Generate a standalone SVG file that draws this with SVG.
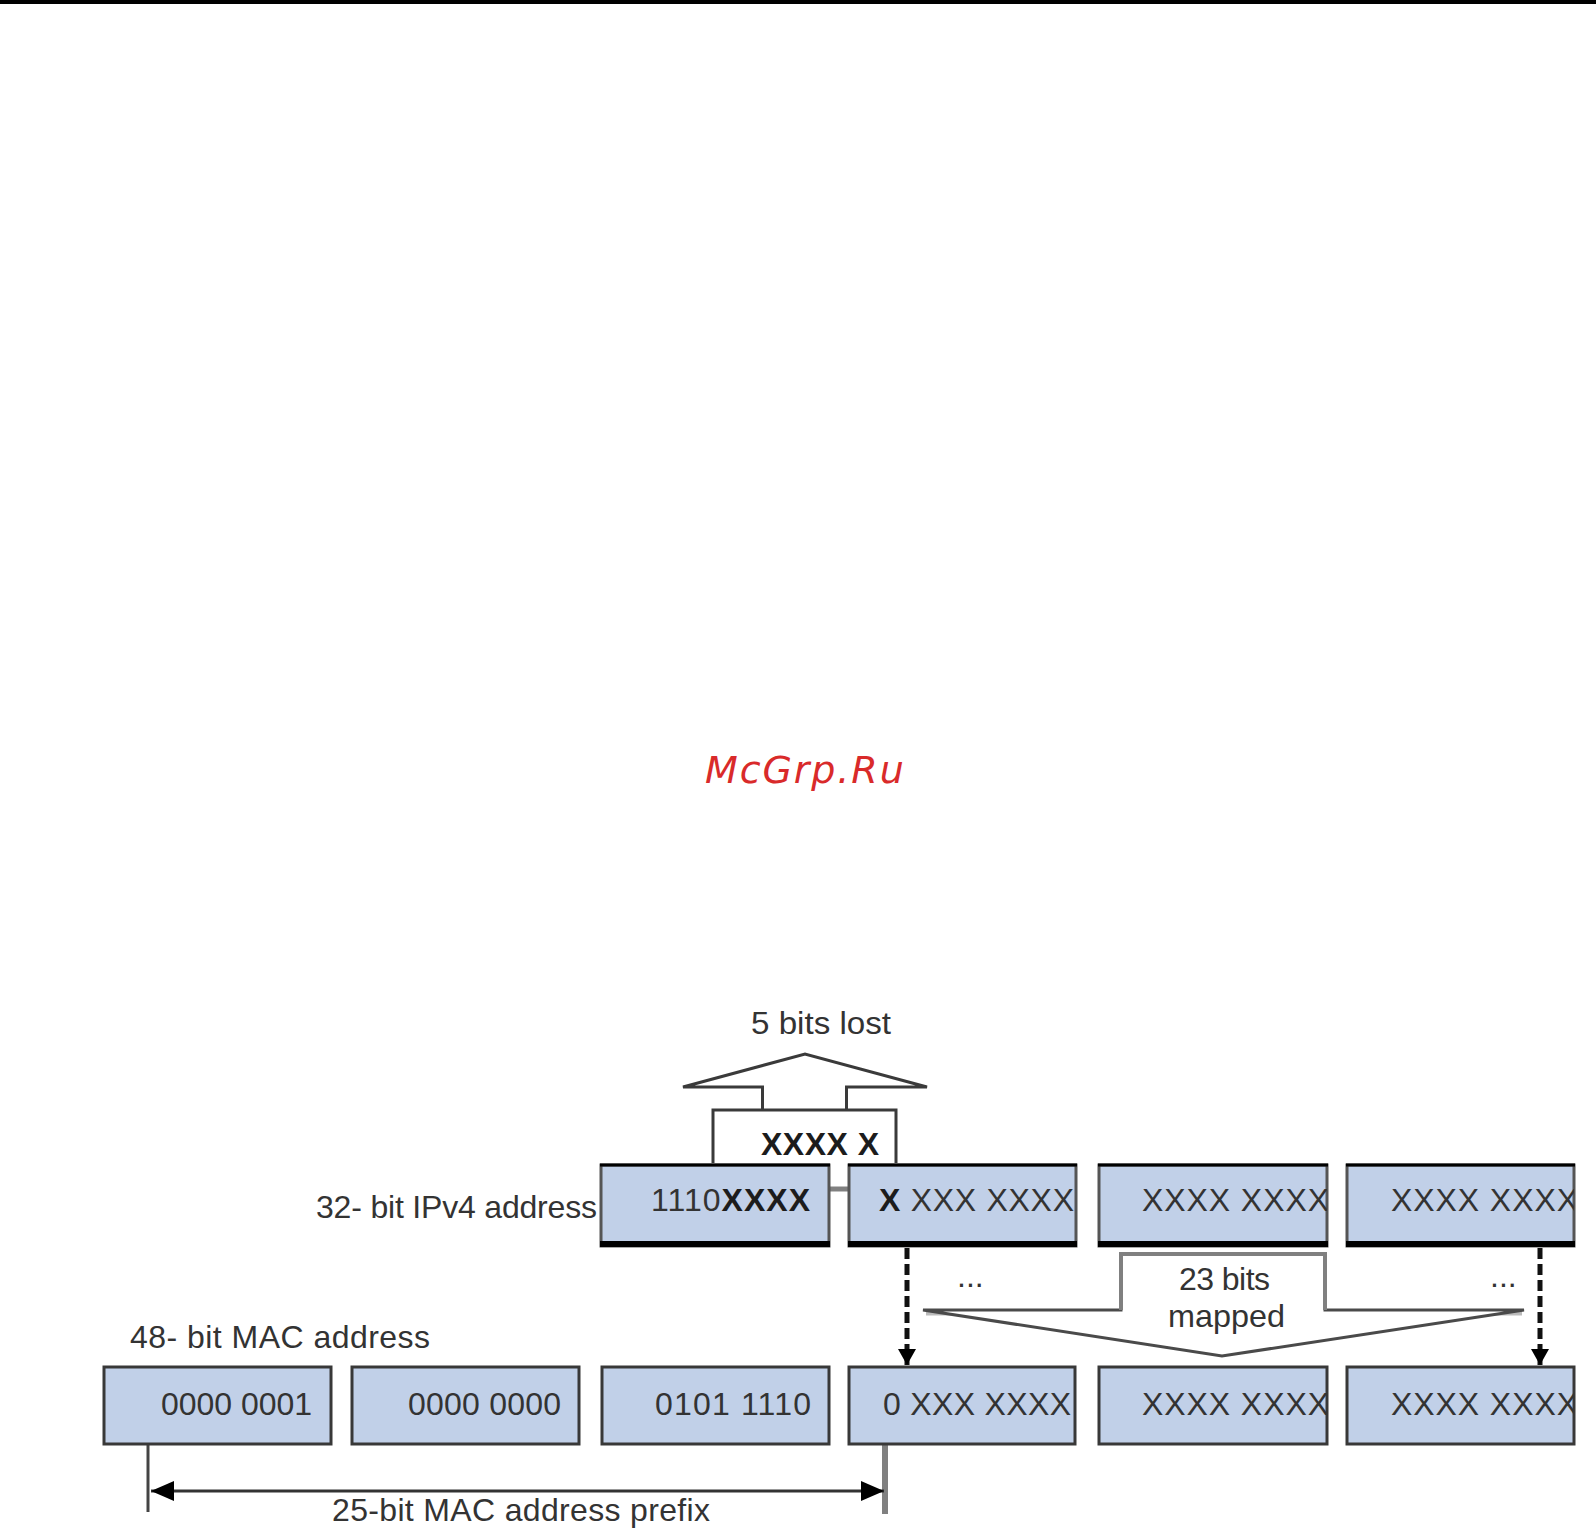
<svg xmlns="http://www.w3.org/2000/svg" width="1596" height="1539" viewBox="0 0 1596 1539">
<style>
.t{font-family:"Liberation Sans",Arial,sans-serif;font-size:32px;fill:#333}
.b{font-weight:bold;fill:#1c1c1c}
.box{fill:#c1d0e8}
.top{stroke:#555;stroke-width:3}
.bot{stroke:#383838;stroke-width:3}
.edge{stroke:#000;fill:none}
.wm{font-family:"DejaVu Sans",sans-serif;font-style:oblique;font-size:38px;letter-spacing:1.9px;fill:#d92a2a}
.dash{stroke:#111;stroke-width:5;stroke-dasharray:11 5;fill:none}
.outline{fill:#fff;stroke:#3a3a3a;stroke-width:3}
</style>
<defs>
<marker id="ah" viewBox="0 0 16 18" refX="16" refY="9" markerUnits="userSpaceOnUse" markerWidth="16" markerHeight="18" orient="auto"><path d="M0 0L16 9L0 18Z" fill="#000"/></marker>
<marker id="dim" viewBox="0 0 23 20" refX="23" refY="10" markerUnits="userSpaceOnUse" markerWidth="23" markerHeight="20" orient="auto-start-reverse"><path d="M0 0L23 10L0 20Z" fill="#000"/></marker>
<clipPath id="c2"><rect x="849" y="1164" width="226" height="82"/></clipPath>
<clipPath id="c3"><rect x="1099" y="1164" width="228" height="82"/></clipPath>
<clipPath id="c4"><rect x="1347" y="1164" width="227" height="82"/></clipPath>
<clipPath id="c8"><rect x="849" y="1367" width="226" height="77"/></clipPath>
<clipPath id="c9"><rect x="1099" y="1367" width="228" height="77"/></clipPath>
<clipPath id="c10"><rect x="1347" y="1367" width="227" height="77"/></clipPath>
</defs>
<rect width="1596" height="1539" fill="#fff"/>
<rect id="top-bar" width="1596" height="4" fill="#000"/>
<text id="watermark" class="wm" x="705" y="783">McGrp.Ru</text>

<g id="lost-arrow">
<path class="outline" d="M762.5 1110V1087H683L805 1054L927 1087H846.5V1110"/>
<path class="outline" d="M713 1163V1110H896V1163"/>
<text class="t" x="751" y="1034" textLength="140" lengthAdjust="spacingAndGlyphs">5 bits lost</text>
<text class="t b" x="761" y="1155" textLength="118" lengthAdjust="spacing">XXXX X</text>
</g>

<g id="mapped-arrow">
<path d="M926 1313H1121M1325 1313H1522" stroke="#bbb" stroke-width="5" fill="none"/>
<path fill="#fff" stroke="#4a4a4a" stroke-width="3" d="M923 1310H1121V1254H1325V1310H1524L1222 1356Z"/>
<path d="M1121 1310V1254H1325V1310" fill="none" stroke="#808080" stroke-width="4"/>
<text class="t" x="1179" y="1290" textLength="91" lengthAdjust="spacing">23 bits</text>
<text class="t" x="1168" y="1327" textLength="117" lengthAdjust="spacingAndGlyphs">mapped</text>
<text class="t" x="957" y="1287">...</text>
<text class="t" x="1490" y="1287">...</text>
</g>

<text id="label-ipv4" class="t" x="316" y="1218" textLength="281" lengthAdjust="spacing">32- bit IPv4 address</text>
<text id="label-mac" class="t" x="130" y="1348" textLength="300" lengthAdjust="spacing">48- bit MAC address</text>

<g id="connectors">
<line x1="829" y1="1189" x2="849" y2="1189" stroke="#808080" stroke-width="5"/>
<line class="dash" x1="907" y1="1248" x2="907" y2="1365" marker-end="url(#ah)"/>
<line class="dash" x1="1540" y1="1248" x2="1540" y2="1365" marker-end="url(#ah)"/>
<line x1="148" y1="1445" x2="148" y2="1512" stroke="#444" stroke-width="3"/>
<line x1="885" y1="1445" x2="885" y2="1514" stroke="#808080" stroke-width="6"/>
<line x1="151" y1="1491" x2="884" y2="1491" stroke="#333" stroke-width="3" marker-start="url(#dim)" marker-end="url(#dim)"/>
</g>
<text id="label-prefix" class="t" x="332" y="1521" textLength="378" lengthAdjust="spacing">25-bit MAC address prefix</text>

<g id="ipv4-1">
<rect class="box top" x="601" y="1165" width="228" height="81"/>
<path class="edge" d="M600 1165H830" stroke-width="3"/><path class="edge" d="M600 1244H830" stroke-width="6"/>
<text class="t" x="651" y="1211" textLength="159" lengthAdjust="spacing">1110<tspan class="b">XXXX</tspan></text>
</g>
<g id="ipv4-2">
<rect class="box top" x="849" y="1165" width="227" height="81"/>
<path class="edge" d="M848 1165H1077" stroke-width="3"/><path class="edge" d="M848 1244H1077" stroke-width="6"/>
<text class="t" x="879" y="1211" clip-path="url(#c2)" textLength="195" lengthAdjust="spacing"><tspan class="b">X</tspan> XXX XXXX</text>
</g>
<g id="ipv4-3">
<rect class="box top" x="1099" y="1165" width="228" height="81"/>
<path class="edge" d="M1098 1165H1328" stroke-width="3"/><path class="edge" d="M1098 1244H1328" stroke-width="6"/>
<text class="t" x="1142" y="1211" clip-path="url(#c3)" textLength="187" lengthAdjust="spacing">XXXX XXXX</text>
</g>
<g id="ipv4-4">
<rect class="box top" x="1347" y="1165" width="227" height="81"/>
<path class="edge" d="M1346 1165H1575" stroke-width="3"/><path class="edge" d="M1346 1244H1575" stroke-width="6"/>
<text class="t" x="1391" y="1211" clip-path="url(#c4)" textLength="187" lengthAdjust="spacing">XXXX XXXX</text>
</g>

<g id="mac-1">
<rect class="box bot" x="104" y="1367" width="227" height="77"/>
<text class="t" x="161" y="1415" textLength="151" lengthAdjust="spacing">0000 0001</text>
</g>
<g id="mac-2">
<rect class="box bot" x="352" y="1367" width="227" height="77"/>
<text class="t" x="408" y="1415" textLength="153" lengthAdjust="spacing">0000 0000</text>
</g>
<g id="mac-3">
<rect class="box bot" x="602" y="1367" width="227" height="77"/>
<text class="t" x="655" y="1415" textLength="156" lengthAdjust="spacing">0101 1110</text>
</g>
<g id="mac-4">
<rect class="box bot" x="849" y="1367" width="226" height="77"/>
<text class="t" x="883" y="1415" clip-path="url(#c8)" textLength="188" lengthAdjust="spacing">0 XXX XXXX</text>
</g>
<g id="mac-5">
<rect class="box bot" x="1099" y="1367" width="228" height="77"/>
<text class="t" x="1142" y="1415" clip-path="url(#c9)" textLength="187" lengthAdjust="spacing">XXXX XXXX</text>
</g>
<g id="mac-6">
<rect class="box bot" x="1347" y="1367" width="227" height="77"/>
<text class="t" x="1391" y="1415" clip-path="url(#c10)" textLength="187" lengthAdjust="spacing">XXXX XXXX</text>
</g>
</svg>
